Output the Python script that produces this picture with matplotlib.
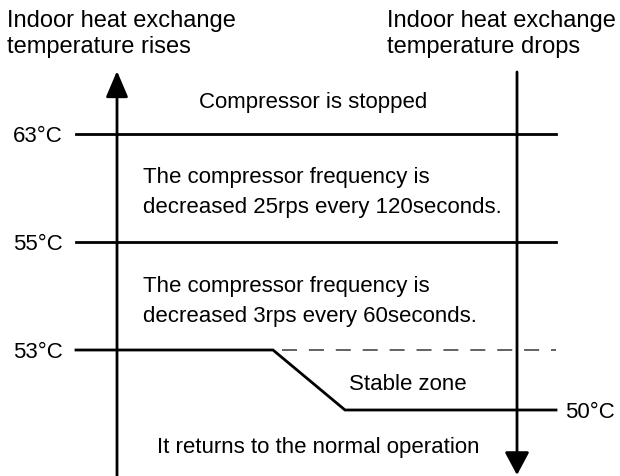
import matplotlib.pyplot as plt

plt.rcParams['font.family'] = ['Liberation Sans', 'DejaVu Sans']

# threshold temperatures and zone descriptions
levels = ["63°C", "55°C", "53°C", "50°C"]
zones = [
    "Compressor is stopped",
    "The compressor frequency is\ndecreased 25rps every 120seconds.",
    "The compressor frequency is\ndecreased 3rps every 60seconds.",
    "Stable zone",
    "It returns to the normal operation",
]
axis_titles = ["Indoor heat exchange\ntemperature rises",
               "Indoor heat exchange\ntemperature drops"]

fig = plt.figure(figsize=(6.2, 4.76), dpi=100)
ax = fig.add_axes([0, 0, 1, 1])
ax.set_xlim(0, 620)
ax.set_ylim(476, 0)
ax.axis('off')

lw = 2
fs = 16
y_lv = [134, 242, 350, 410]


def lines(x, y0, txt, step=30, size=fs, ha='left'):
    # one text per line, placed by baseline
    for i, s in enumerate(txt.split("\n")):
        ax.text(x, y0 + i * step, s, ha=ha, va='baseline', fontsize=size)


# vertical arrows
ax.annotate('', xy=(117, 71), xytext=(117, 476),
            arrowprops=dict(arrowstyle='-|>,head_length=1.6,head_width=0.68',
                            color='black', lw=lw, shrinkA=0, shrinkB=0))
ax.annotate('', xy=(517, 475), xytext=(517, 72),
            arrowprops=dict(arrowstyle='-|>,head_length=1.4,head_width=0.75',
                            color='black', lw=lw, shrinkA=0, shrinkB=0))

# threshold lines
ax.plot([76, 556], [y_lv[0], y_lv[0]], color='black', lw=lw)
ax.plot([76, 556], [y_lv[1], y_lv[1]], color='black', lw=lw)
ax.plot([76, 273, 345, 556], [y_lv[2], y_lv[2], y_lv[3], y_lv[3]],
        color='black', lw=lw, solid_joinstyle='miter')
ax.plot([282, 556], [y_lv[2], y_lv[2]], color='#555555', lw=1.3,
        dashes=(8.3, 6.6))

for lab, y in zip(levels[:3], y_lv[:3]):
    ax.text(63, y + 8, lab, ha='right', va='baseline', fontsize=fs)
ax.text(565, y_lv[3] + 7.5, levels[3], ha='left', va='baseline', fontsize=fs)

lines(7, 27, axis_titles[0], step=26, size=17)
lines(387, 27, axis_titles[1], step=26, size=17)

lines(313, 108, zones[0], ha='center')
lines(143, 183, zones[1])
lines(143, 292, zones[2])
lines(408, 390, zones[3], ha='center')
lines(318, 453, zones[4], ha='center')

fig.savefig('out.png', dpi=100)
